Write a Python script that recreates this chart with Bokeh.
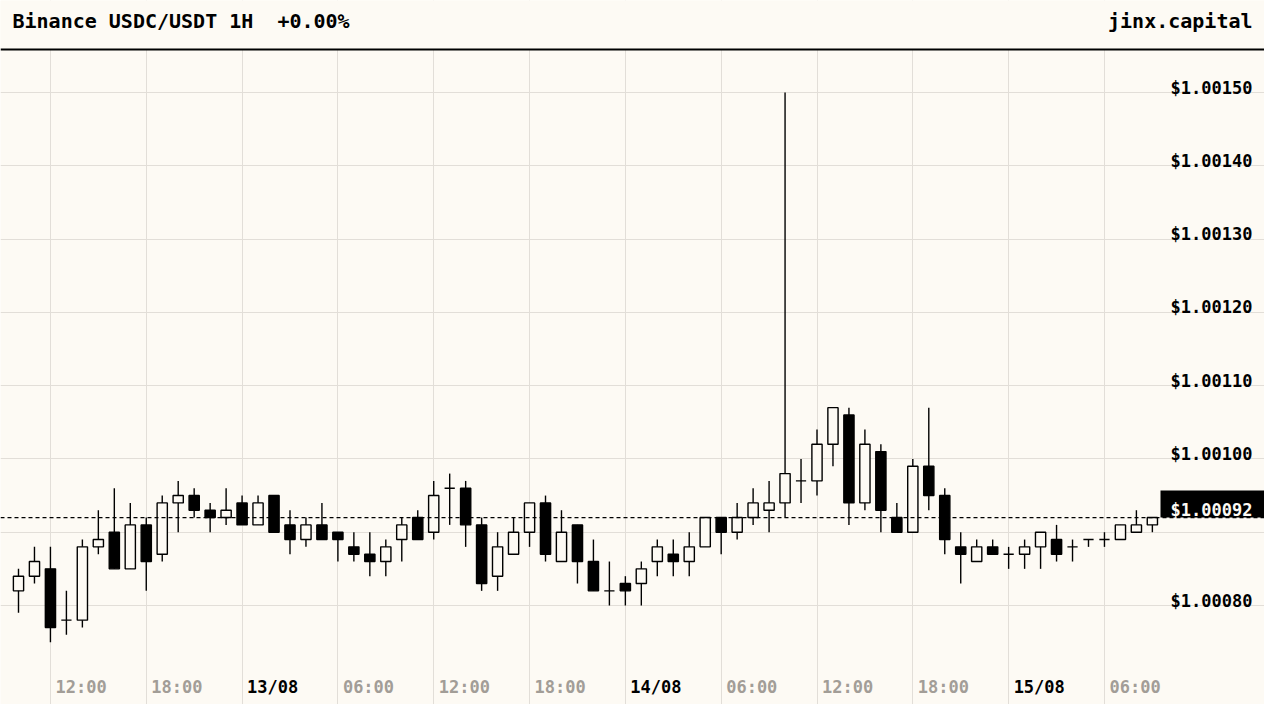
import pandas as pd
from bokeh.plotting import figure
from bokeh.models import BoxAnnotation, Label, Span, FixedTicker, Range1d
from bokeh.embed import file_html
from bokeh.resources import INLINE

# velas de 1h, 12/08 10:00 -> 15/08 09:00
inicio = "2024-08-12 10:00"
opens = [1.00082, 1.00084, 1.00085, 1.00078, 1.00078, 1.00088, 1.00090, 1.00085, 1.00091, 1.00087,
         1.00094, 1.00095, 1.00093, 1.00092, 1.00094, 1.00091, 1.00095, 1.00091, 1.00089, 1.00091,
         1.00090, 1.00088, 1.00087, 1.00086, 1.00089, 1.00092, 1.00090, 1.00096, 1.00096, 1.00091,
         1.00084, 1.00087, 1.00090, 1.00094, 1.00086, 1.00091, 1.00086, 1.00082, 1.00083, 1.00083,
         1.00086, 1.00087, 1.00086, 1.00088, 1.00092, 1.00090, 1.00092, 1.00093, 1.00094, 1.00097,
         1.00097, 1.00102, 1.00106, 1.00094, 1.00101, 1.00092, 1.00090, 1.00099, 1.00095, 1.00088,
         1.00086, 1.00088, 1.00087, 1.00087, 1.00088, 1.00089, 1.00088, 1.00089, 1.00089, 1.00089,
         1.00090, 1.00091]
highs = [1.00085, 1.00088, 1.00088, 1.00082, 1.00089, 1.00093, 1.00096, 1.00094, 1.00092, 1.00095,
         1.00097, 1.00096, 1.00094, 1.00096, 1.00095, 1.00095, 1.00095, 1.00093, 1.00092, 1.00094,
         1.00090, 1.00090, 1.00090, 1.00089, 1.00092, 1.00093, 1.00097, 1.00098, 1.00097, 1.00092,
         1.00090, 1.00092, 1.00094, 1.00095, 1.00093, 1.00091, 1.00089, 1.00086, 1.00084, 1.00086,
         1.00089, 1.00089, 1.00090, 1.00092, 1.00092, 1.00094, 1.00096, 1.00097, 1.00150, 1.00100,
         1.00104, 1.00107, 1.00107, 1.00104, 1.00102, 1.00094, 1.00100, 1.00107, 1.00096, 1.00090,
         1.00089, 1.00089, 1.00088, 1.00089, 1.00090, 1.00091, 1.00089, 1.00089, 1.00090, 1.00091,
         1.00093, 1.00092]
lows = [1.00079, 1.00083, 1.00075, 1.00076, 1.00077, 1.00087, 1.00085, 1.00085, 1.00082, 1.00086,
        1.00090, 1.00092, 1.00090, 1.00091, 1.00091, 1.00091, 1.00090, 1.00087, 1.00088, 1.00089,
        1.00086, 1.00086, 1.00084, 1.00084, 1.00086, 1.00089, 1.00089, 1.00091, 1.00088, 1.00082,
        1.00082, 1.00087, 1.00088, 1.00086, 1.00086, 1.00083, 1.00082, 1.00080, 1.00080, 1.00080,
        1.00084, 1.00084, 1.00084, 1.00088, 1.00087, 1.00089, 1.00091, 1.00090, 1.00092, 1.00094,
        1.00095, 1.00099, 1.00091, 1.00093, 1.00090, 1.00090, 1.00090, 1.00093, 1.00087, 1.00083,
        1.00086, 1.00087, 1.00085, 1.00085, 1.00085, 1.00086, 1.00086, 1.00088, 1.00088, 1.00089,
        1.00090, 1.00090]
closes = [1.00084, 1.00086, 1.00077, 1.00078, 1.00088, 1.00089, 1.00085, 1.00091, 1.00086, 1.00094,
          1.00095, 1.00093, 1.00092, 1.00093, 1.00091, 1.00094, 1.00090, 1.00089, 1.00091, 1.00089,
          1.00089, 1.00087, 1.00086, 1.00088, 1.00091, 1.00089, 1.00095, 1.00096, 1.00091, 1.00083,
          1.00088, 1.00090, 1.00094, 1.00087, 1.00090, 1.00086, 1.00082, 1.00082, 1.00082, 1.00085,
          1.00088, 1.00086, 1.00088, 1.00092, 1.00090, 1.00092, 1.00094, 1.00094, 1.00098, 1.00097,
          1.00102, 1.00107, 1.00094, 1.00102, 1.00093, 1.00090, 1.00099, 1.00095, 1.00089, 1.00087,
          1.00088, 1.00087, 1.00087, 1.00088, 1.00090, 1.00087, 1.00088, 1.00089, 1.00089, 1.00091,
          1.00091, 1.00092]

precios_eje = [1.00080, 1.00090, 1.00100, 1.00110, 1.00120, 1.00130, 1.00140, 1.00150]
marcas_tiempo = pd.date_range("2024-08-12 12:00", "2024-08-15 06:00", freq="6h")

# el SVG junta los espacios seguidos, por eso el espacio duro
titulo = "Binance USDC/USDT 1H\u00a0 +0.00%"
marca = "jinx.capital"

FONDO = "#fdfaf4"
REJILLA = "#e2ded8"
GRIS = "#a29d97"
FUENTE = "DejaVu Sans Mono"
W, H = 1264, 704
HORA = 3600 * 1000


def ms(t):
    return pd.Timestamp(t).value // 10**6


tiempos = [ms(pd.Timestamp(inicio) + pd.Timedelta(hours=i)) for i in range(len(opens))]

# escala: 15.97 px por hora, 732.9 px por 0.001
px_hora = 15.97
px_precio = 513 / 0.0007
x_ini = tiempos[0] - 18 / px_hora * HORA
x_fin = tiempos[0] + (W - 18) / px_hora * HORA
y_fin = 1.00150 + 92 / px_precio
y_ini = 1.00080 - (H - 605) / px_precio

p = figure(width=W, height=H, x_axis_type="datetime",
           x_range=Range1d(x_ini, x_fin), y_range=Range1d(y_ini, y_fin),
           x_axis_location=None, y_axis_location=None,
           toolbar_location=None, output_backend="svg",
           min_border=0, background_fill_color=FONDO, border_fill_color=FONDO)
p.outline_line_color = None
p.xgrid.ticker = FixedTicker(ticks=[ms(t) for t in marcas_tiempo])
p.ygrid.ticker = FixedTicker(ticks=precios_eje)
p.grid.grid_line_color = REJILLA
p.grid.grid_line_width = 1

# velas
arriba = [max(o, c) for o, c in zip(opens, closes)]
abajo = [min(o, c) for o, c in zip(opens, closes)]
relleno = [FONDO if c >= o else "black" for o, c in zip(opens, closes)]
p.segment(x0=tiempos, y0=lows, x1=tiempos, y1=highs, line_color="black", line_width=1.4)
p.vbar(x=tiempos, width=0.64 * HORA, top=arriba, bottom=abajo,
       fill_color=relleno, line_color="black", line_width=1.4)

# etiquetas del eje y (la de 1.00090 queda tapada por el precio actual)
ultimo = closes[-1]
for v in precios_eje:
    if abs(v - ultimo) < 0.00005:
        continue
    p.add_layout(Label(x=W - 12, x_units="screen", y=v, y_offset=5, text="$%.5f" % v,
                       text_align="right", text_baseline="alphabetic", text_font=FUENTE,
                       text_font_style="bold", text_font_size="17px", text_color="black"))

# etiquetas del eje x
for t in marcas_tiempo:
    if t.hour == 0:
        texto, color = t.strftime("%d/%m"), "black"
    else:
        texto, color = t.strftime("%H:%M"), GRIS
    p.add_layout(Label(x=ms(t), x_offset=5, y=18, y_units="screen", text=texto,
                       text_align="left", text_baseline="middle", text_font=FUENTE,
                       text_font_style="bold", text_font_size="17px", text_color=color))

# precio actual
p.add_layout(Span(location=ultimo, dimension="width", line_color="black",
                  line_width=1.2, line_dash="4 3"))
p.add_layout(BoxAnnotation(left=W - 104, right=W, left_units="screen", right_units="screen",
                           bottom=ultimo, top=ultimo + 27 / px_precio,
                           fill_color="black", fill_alpha=1, line_alpha=0))
p.add_layout(Label(x=W - 12, x_units="screen", y=ultimo, y_offset=8, text="$%.5f" % ultimo,
                   text_align="right", text_baseline="alphabetic", text_font=FUENTE,
                   text_font_style="bold", text_font_size="17px", text_color=FONDO))

# cabecera
p.add_layout(BoxAnnotation(left=0, right=W, bottom=H - 49, top=H,
                           left_units="screen", right_units="screen",
                           bottom_units="screen", top_units="screen",
                           fill_color=FONDO, fill_alpha=1, line_alpha=0))
p.add_layout(BoxAnnotation(left=0, right=W, bottom=H - 50, top=H - 48,
                           left_units="screen", right_units="screen",
                           bottom_units="screen", top_units="screen",
                           fill_color="black", fill_alpha=1, line_alpha=0))
p.add_layout(Label(x=12, y=H - 20, x_units="screen", y_units="screen", text=titulo,
                   text_align="left", text_baseline="middle", text_font=FUENTE,
                   text_font_style="bold", text_font_size="20px", text_color="black"))
p.add_layout(Label(x=W - 12, y=H - 20, x_units="screen", y_units="screen", text=marca,
                   text_align="right", text_baseline="middle", text_font=FUENTE,
                   text_font_style="bold", text_font_size="20px", text_color="black"))

open("out.html", "w").write(file_html(p, INLINE))
